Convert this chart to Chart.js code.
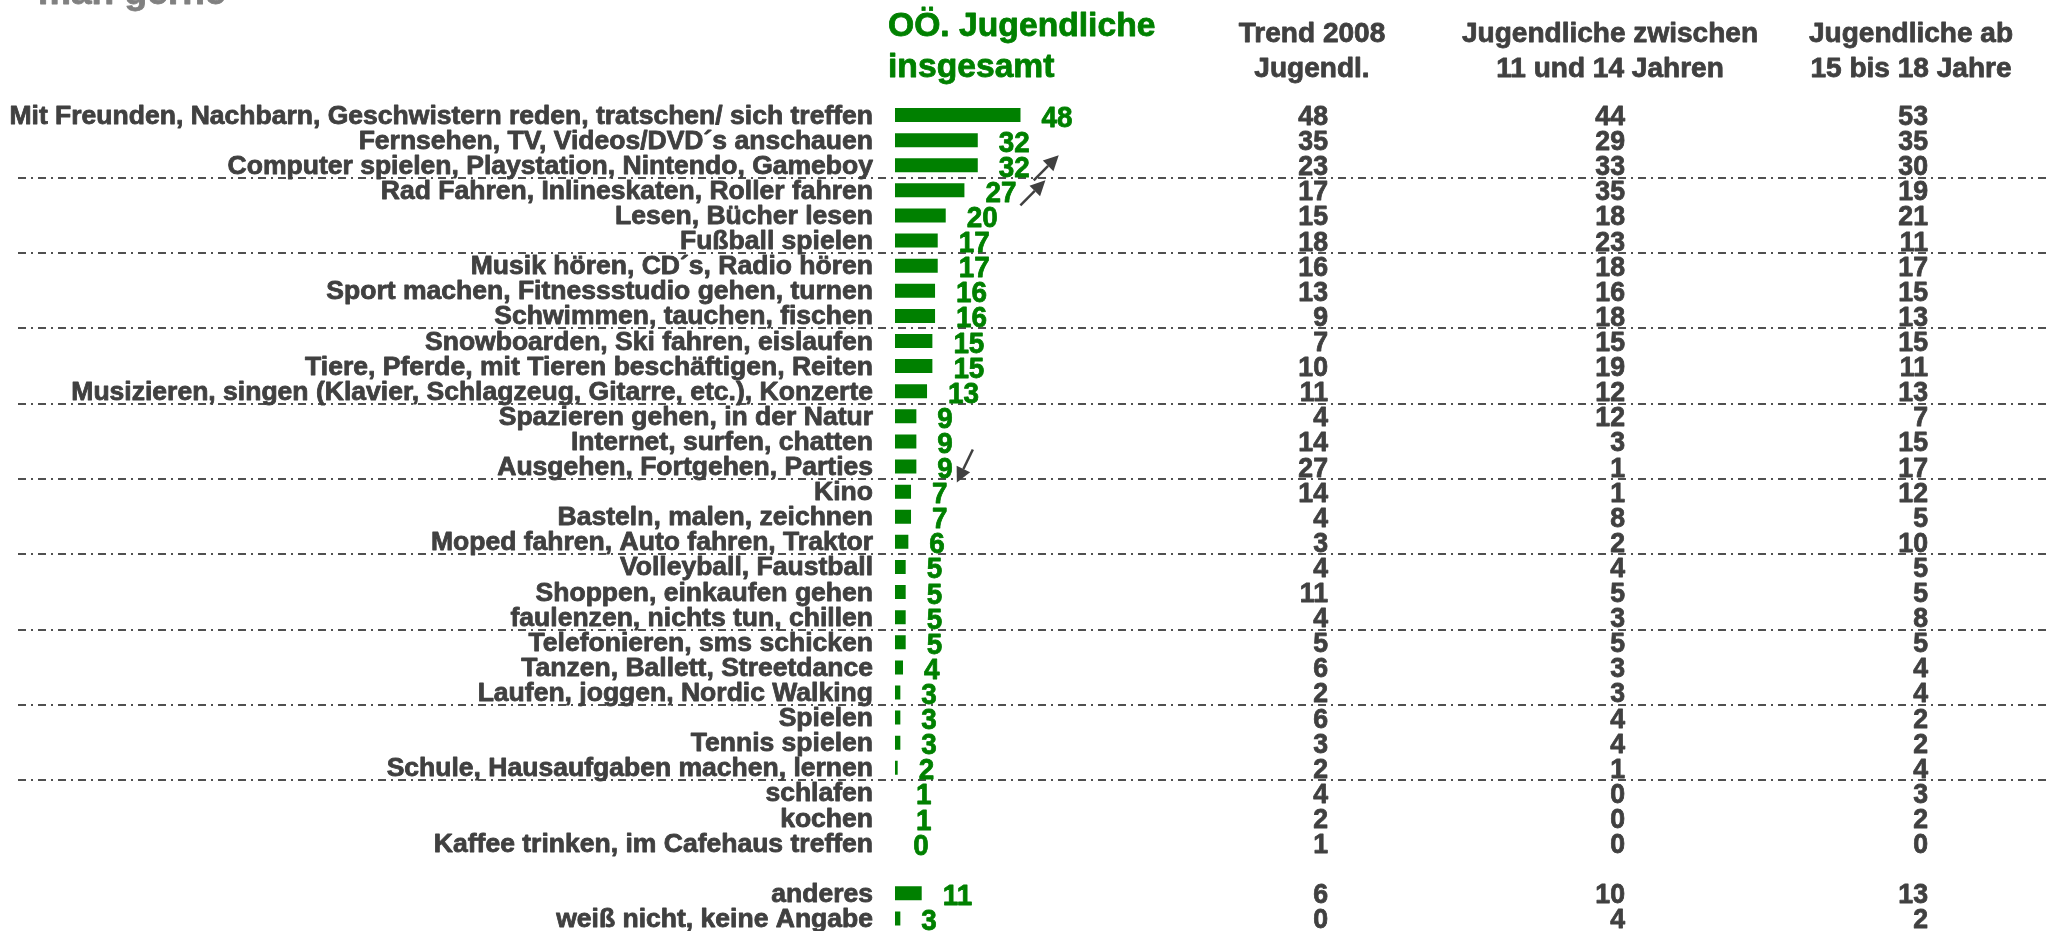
<!DOCTYPE html>
<html>
<head>
<meta charset="utf-8">
<script src="https://cdn.jsdelivr.net/npm/chart.js"></script>
<style>
  body { margin: 0; background: #fff; }
  #wrap { width: 2047px; height: 931px; }
</style>
</head>
<body>
<div id="wrap"><canvas id="chart" width="2047" height="931"></canvas></div>
<script>
// activities (empty entry = spacer row before "anderes")
const activities = [
    'Mit Freunden, Nachbarn, Geschwistern reden, tratschen/ sich treffen',
    'Fernsehen, TV, Videos/DVD\u00b4s anschauen',
    'Computer spielen, Playstation, Nintendo, Gameboy',
    'Rad Fahren, Inlineskaten, Roller fahren',
    'Lesen, B\u00fccher lesen',
    'Fu\u00dfball spielen',
    'Musik h\u00f6ren, CD\u00b4s, Radio h\u00f6ren',
    'Sport machen, Fitnessstudio gehen, turnen',
    'Schwimmen, tauchen, fischen',
    'Snowboarden, Ski fahren, eislaufen',
    'Tiere, Pferde, mit Tieren besch\u00e4ftigen, Reiten',
    'Musizieren, singen (Klavier, Schlagzeug, Gitarre, etc.), Konzerte',
    'Spazieren gehen, in der Natur',
    'Internet, surfen, chatten',
    'Ausgehen, Fortgehen, Parties',
    'Kino',
    'Basteln, malen, zeichnen',
    'Moped fahren, Auto fahren, Traktor',
    'Volleyball, Faustball',
    'Shoppen, einkaufen gehen',
    'faulenzen, nichts tun, chillen',
    'Telefonieren, sms schicken',
    'Tanzen, Ballett, Streetdance',
    'Laufen, joggen, Nordic Walking',
    'Spielen',
    'Tennis spielen',
    'Schule, Hausaufgaben machen, lernen',
    'schlafen',
    'kochen',
    'Kaffee trinken, im Cafehaus treffen',
    '',
    'anderes',
    'wei\u00df nicht, keine Angabe'
];

// OÖ. Jugendliche insgesamt (%)
const totalValues = [48, 32, 32, 27, 20, 17, 17, 16, 16, 15, 15, 13, 9, 9, 9, 7, 7, 6, 5, 5, 5, 5, 4, 3, 3, 3, 2, 1, 1, 0, null, 11, 3];
// Trend 2008 Jugendl.
const trend2008 = [48, 35, 23, 17, 15, 18, 16, 13, 9, 7, 10, 11, 4, 14, 27, 14, 4, 3, 4, 11, 4, 5, 6, 2, 6, 3, 2, 4, 2, 1, null, 6, 0];
// Jugendliche zwischen 11 und 14 Jahren
const age11to14 = [44, 29, 33, 35, 18, 23, 18, 16, 18, 15, 19, 12, 12, 3, 1, 1, 8, 2, 4, 5, 3, 5, 3, 3, 4, 4, 1, 0, 0, 0, null, 10, 4];
// Jugendliche ab 15 bis 18 Jahre
const age15to18 = [53, 35, 30, 19, 21, 11, 17, 15, 13, 15, 11, 13, 7, 15, 17, 12, 5, 10, 5, 5, 8, 5, 4, 4, 2, 2, 4, 3, 2, 0, null, 13, 2];

// rows where a new group of three starts (dash-dot separator above)
const groupStarts = [3, 6, 9, 12, 15, 18, 21, 24, 27];
// trend arrows next to the values
const trendArrows = [
    { row: 2, dir: 'up' },
    { row: 3, dir: 'up' },
    { row: 14, dir: 'down' }
];

const tableColumns = [
    { head: ['Trend 2008', 'Jugendl.'], values: trend2008 },
    { head: ['Jugendliche zwischen', '11 und 14 Jahren'], values: age11to14 },
    { head: ['Jugendliche ab', '15 bis 18 Jahre'], values: age15to18 }
];

const FONT = '"Liberation Sans", Arial, sans-serif';
const GREEN = '#008000';
const DARK = '#404040';

function stretchText(ctx, text, x, y, align, size, sx, color){
    ctx.save();
    ctx.font = 'bold ' + size + 'px ' + FONT;
    ctx.fillStyle = color;
    ctx.strokeStyle = color;
    ctx.lineWidth = 0.8;
    ctx.lineJoin = 'round';
    ctx.textAlign = align;
    ctx.textBaseline = 'alphabetic';
    ctx.translate(x, y);
    ctx.scale(sx, 1);
    ctx.fillText(text, 0, 0);
    ctx.strokeText(text, 0, 0); // the slide text is heavier than plain bold
    ctx.restore();
}

function textWidth(ctx, text, size, sx){
    ctx.save();
    ctx.font = 'bold ' + size + 'px ' + FONT;
    var w = ctx.measureText(text).width * sx;
    ctx.restore();
    return w;
}

function arrow(ctx, x1, y1, x2, y2){
    var a = Math.atan2(y2 - y1, x2 - x1);
    var len = 15, hw = 7.5;
    var bx = x2 - len * Math.cos(a), by = y2 - len * Math.sin(a);
    ctx.save();
    ctx.strokeStyle = DARK;
    ctx.fillStyle = DARK;
    ctx.lineWidth = 2.5;
    ctx.beginPath();
    ctx.moveTo(x1, y1);
    ctx.lineTo(bx, by);
    ctx.stroke();
    ctx.beginPath();
    ctx.moveTo(x2, y2);
    ctx.lineTo(bx + hw * Math.sin(a), by - hw * Math.cos(a));
    ctx.lineTo(bx - hw * Math.sin(a), by + hw * Math.cos(a));
    ctx.closePath();
    ctx.fill();
    ctx.restore();
}

const tablePlugin = {
    id: 'tablePlugin',
    beforeDatasetsDraw(chart){
        const ctx = chart.ctx;
        const y = chart.scales.y;
        ctx.save();
        ctx.strokeStyle = '#505050';
        ctx.lineWidth = 2;
        ctx.setLineDash([8, 5, 2, 5]);
        groupStarts.forEach(function(r){
            var ly = Math.round((y.getPixelForValue(r - 1) + y.getPixelForValue(r)) / 2);
            ctx.beginPath();
            ctx.moveTo(18, ly);
            ctx.lineTo(chart.width, ly);
            ctx.stroke();
        });
        ctx.restore();
    },
    afterDatasetsDraw(chart){
        const ctx = chart.ctx;
        const x = chart.scales.x;
        const y = chart.scales.y;
        const labelRight = chart.chartArea.left - 22;

        // title fragment at the top
        stretchText(ctx, 'man gerne', 38, 4, 'left', 35, 1.06, '#808080');

        // headers
        stretchText(ctx, 'O\u00d6. Jugendliche', 888, 36, 'left', 33, 1.02, GREEN);
        stretchText(ctx, 'insgesamt', 888, 77, 'left', 33, 1.02, GREEN);
        const headCenters = [1312, 1610, 1911];
        const numRight = [1328, 1625, 1928];
        tableColumns.forEach(function(col, c){
            stretchText(ctx, col.head[0], headCenters[c], 42, 'center', 27.5, 1.02, DARK);
            stretchText(ctx, col.head[1], headCenters[c], 77, 'center', 27.5, 1.02, DARK);
        });

        for (var i = 0; i < activities.length; i++){
            var py = y.getPixelForValue(i);
            if (activities[i]) {
                stretchText(ctx, activities[i], labelRight, py + 8.5, 'right', 25.5, 1.04, DARK);
            }
            var v = totalValues[i];
            if (v !== null) {
                stretchText(ctx, String(v), x.getPixelForValue(v) + 21, py + 11.5, 'left', 29, 0.96, GREEN);
            }
            tableColumns.forEach(function(col, c){
                if (col.values[i] !== null) {
                    stretchText(ctx, String(col.values[i]), numRight[c], py + 10, 'right', 27.5, 0.97, DARK);
                }
            });
        }

        trendArrows.forEach(function(t){
            var v = totalValues[t.row];
            var py = y.getPixelForValue(t.row);
            var end = x.getPixelForValue(v) + 21 + textWidth(ctx, String(v), 29, 0.96);
            if (t.dir === 'up') {
                arrow(ctx, end + 4, py + 15, end + 29, py - 10);
            } else {
                arrow(ctx, end + 20, py - 17, end + 4, py + 16);
            }
        });
    }
};

const data = {
    labels: activities,
    datasets: [{
        label: 'OÖ. Jugendliche insgesamt',
        data: totalValues,
        backgroundColor: GREEN,
        borderWidth: 0,
        inflateAmount: 0,
        barThickness: 14
    }]
};

const config = {
    type: 'bar',
    data,
    options: {
        indexAxis: 'y',
        responsive: false,
        animation: false,
        events: [],
        layout: {
            padding: { top: 102.5, bottom: 0, left: 0, right: 885 }
        },
        scales: {
            x: {
                display: false,
                min: 1,
                max: 101
            },
            y: {
                grid: { display: false, drawTicks: false },
                border: { display: false },
                ticks: { display: false, autoSkip: false },
                afterFit: function(scale){ scale.width = 895; }
            }
        },
        plugins: {
            legend: { display: false },
            tooltip: { enabled: false },
            title: { display: false }
        }
    },
    plugins: [tablePlugin]
};

const ctx = document.getElementById('chart').getContext('2d');
const myChart = new Chart(ctx, config);
</script>
</body>
</html>
